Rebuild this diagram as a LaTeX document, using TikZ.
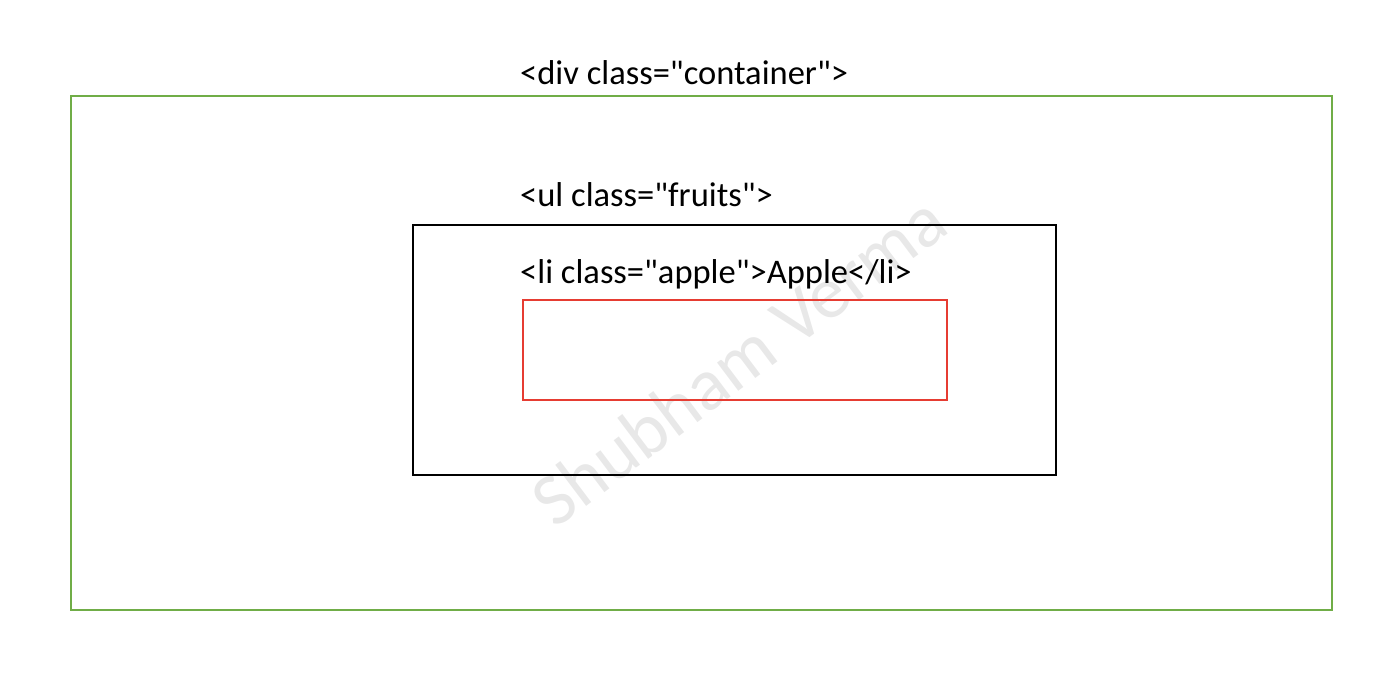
\documentclass[tikz,border=0pt]{standalone}
\usepackage{fontspec}
\setmainfont[Ligatures=NoCommon,Mapping=]{Carlito}
\newcommand{\qq}{\symbol{34}}
\begin{document}
\begin{tikzpicture}[x=1pt,y=-1pt,
  lbl/.style={anchor=base west,inner sep=0pt,font=\fontsize{34.5}{37}\selectfont}]
\useasboundingbox (0,0) rectangle (1400,682);
\node[rotate=37,text=black!9,font=\fontsize{74}{80}\selectfont,inner sep=0pt] (wm) at (738,360) {Shubham Verma};
\node[draw={rgb,255:red,112;green,173;blue,71},line width=1.6pt,minimum width=1261pt,minimum height=514pt,anchor=north west,inner sep=0pt] (div) at (70,95) {};
\node[draw=black,line width=1.6pt,minimum width=643pt,minimum height=250pt,anchor=north west,inner sep=0pt] (ul) at (412,224) {};
\node[draw={rgb,255:red,230;green,60;blue,50},line width=1.6pt,minimum width=424pt,minimum height=100pt,anchor=north west,inner sep=0pt] (li) at (522,299) {};
\node[lbl] (t1) at (520,85) {<div class=\qq container\qq>};
\node[lbl] (t2) at (520,206) {<ul class=\qq fruits\qq>};
\node[lbl] (t3) at (520,283) {<li class=\qq apple\qq>Apple</li>};
\end{tikzpicture}
\end{document}
